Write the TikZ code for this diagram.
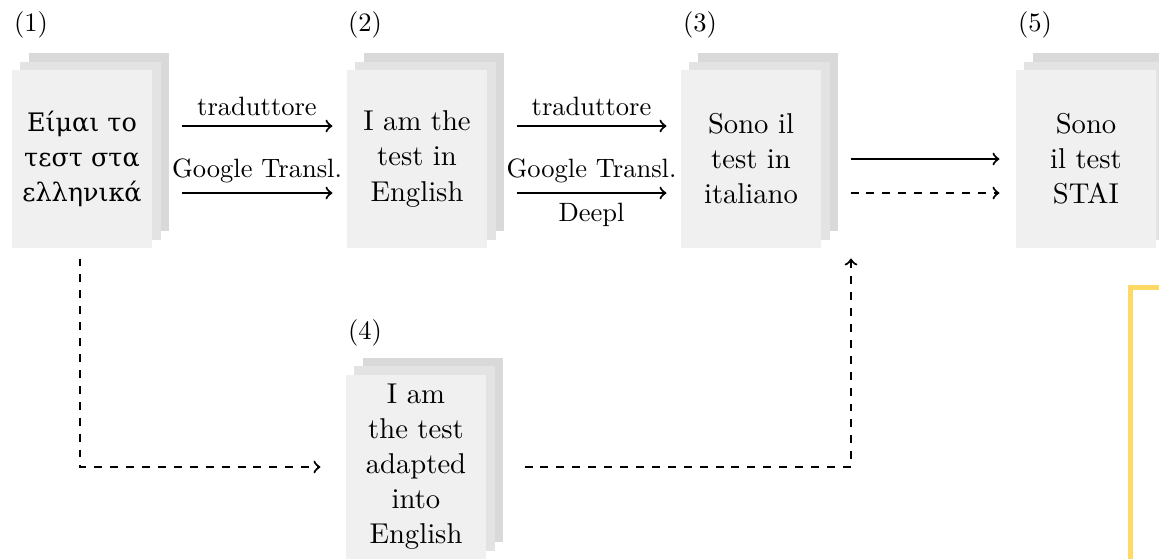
\documentclass[tikz,border=0pt]{standalone}
\usepackage{fontspec}
\newfontfamily\grkserif{DejaVu Serif}
\usetikzlibrary{shadows,calc}
\definecolor{docfront}{HTML}{F0F0F0}
\definecolor{docmid}{HTML}{E3E3E3}
\definecolor{docback}{HTML}{D9D9D9}
\definecolor{hlyellow}{HTML}{FFD865}
\begin{document}
\begin{tikzpicture}[x=0.377pt, y=-0.377pt,
  doc/.style={fill=docfront, minimum width=52.8pt, minimum height=67.1pt, inner sep=0pt,
    align=center, font=\fontsize{10.8}{13.2}\selectfont,
    general shadow={fill=docback, shadow xshift=6.4pt, shadow yshift=6.4pt},
    general shadow={fill=docmid, shadow xshift=3.2pt, shadow yshift=3.2pt}},
  num/.style={font=\fontsize{10}{12}\selectfont, inner sep=0pt},
  lab/.style={font=\fontsize{10}{12}\selectfont, inner sep=3.5pt},
  flow/.style={->, line width=0.8pt},
  alt/.style={->, line width=0.8pt, dash pattern=on 3pt off 3pt}]
\useasboundingbox (0,0) rectangle (1159,558);

\node[doc, font=\grkserif\fontsize{9.6}{13.2}\selectfont] (n1) at (82,159) {Είμαι το\\τεστ στα\\ελληνικά};
\node[doc] (n2) at (417,159) {I am the\\test in\\English};
\node[doc] (n3) at (751,159) {Sono il\\test in\\italiano};
\node[doc] (n5) at (1086,159) {Sono\\il test\\STAI};
\node[doc, minimum height=69.4pt] (n4) at (416,467) {I am\\the test\\adapted\\into\\English};

\node[num] (l1) at (31,25) {(1)};
\node[num] (l2) at (365,25) {(2)};
\node[num] (l3) at (700,25) {(3)};
\node[num] (l5) at (1035,25) {(5)};
\node[num] (l4) at (365,333) {(4)};

% (1) -> (2)
\draw[flow] ($(n1.east)+(29,-33)$) -- ($(n2.west)+(-14,-33)$)
  node[lab, midway, above] {traduttore};
\draw[flow] ($(n1.east)+(29,34)$) -- ($(n2.west)+(-14,34)$)
  node[lab, midway, above] {Google Transl.};
% (2) -> (3)
\draw[flow] ($(n2.east)+(29,-33)$) -- ($(n3.west)+(-14,-33)$)
  node[lab, midway, above] {traduttore};
\draw[flow] ($(n2.east)+(29,34)$) -- ($(n3.west)+(-14,34)$)
  node[lab, midway, above] {Google Transl.}
  node[lab, midway, below] {Deepl};
% (3) -> (5)
\draw[flow] ($(n3.east)+(29,0)$) -- ($(n5.west)+(-16,0)$);
\draw[alt] ($(n3.east)+(29,34)$) -- ($(n5.west)+(-16,34)$);
% (1) -> (4) -> (3)
\draw[alt] ($(n1.south)+(-2,10)$) |- ($(n4.west)+(-25,0)$);
\draw[alt] ($(n4.east)+(38,0)$) -| ($(n3.south)+(100,10)$);

% yellow frame corner
\draw[hlyellow, line width=1.9pt] (1130.5,562) -- (1130.5,287.5) -- (1165,287.5);
\end{tikzpicture}
\end{document}
